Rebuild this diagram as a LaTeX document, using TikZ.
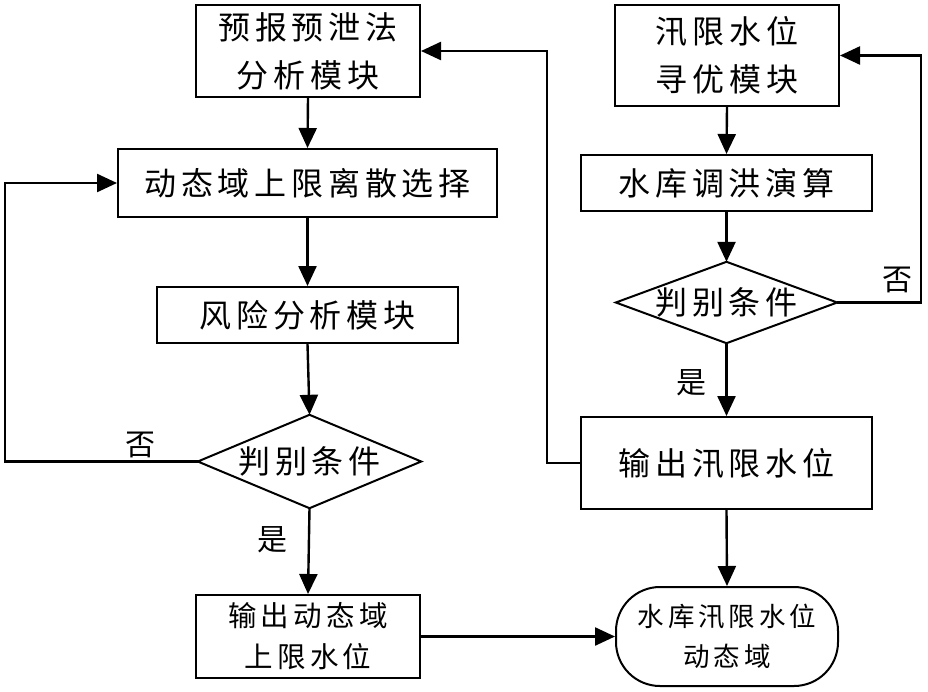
\documentclass[tikz,border=0pt]{standalone}
\usepackage{fontspec}
\newfontfamily\cjk[LetterSpace=15]{Noto Sans CJK SC}
\newfontfamily\cjkl{Noto Sans CJK SC}
\usetikzlibrary{arrows.meta}
\begin{document}
\begin{tikzpicture}[x=1pt,y=-1pt,
  box/.style={draw,line width=2pt,inner sep=0pt,align=center,font=\cjk\fontsize{32}{48}\selectfont},
  sbox/.style={box,font=\cjk\fontsize{28.5}{41}\selectfont},
  dia/.style={draw=none,inner sep=0pt,align=center,font=\cjk\fontsize{32}{48}\selectfont},
  lab/.style={inner sep=0pt,font=\cjkl\fontsize{30}{36}\selectfont},
  arr/.style={line width=2.4pt,-{Triangle[length=20pt,width=18pt]}},
  dline/.style={line width=2pt,line join=miter}]
\useasboundingbox (0,0) rectangle (928,691);
% left column
\node[box,minimum width=224pt,minimum height=92pt] (b1) at (308,51) {预报预泄法\\分析模块};
\node[box,minimum width=379pt,minimum height=68pt] (b2) at (307.5,183) {动态域上限离散选择};
\node[box,minimum width=301pt,minimum height=56pt] (b3) at (307.5,315) {风险分析模块};
\node[dia,minimum width=223pt,minimum height=93pt] (d1) at (309.5,461.5) {判别条件};
\draw[dline] (d1.north) -- (d1.east) -- (d1.south) -- (d1.west) -- cycle;
\node[sbox,minimum width=224pt,minimum height=83pt] (b4) at (308,636.5) {输出动态域\\上限水位};
\node[sbox,rounded corners=44pt,minimum width=222pt,minimum height=99pt,font=\cjk\fontsize{26.5}{40}\selectfont] (t) at (727,636.5) {水库汛限水位\\动态域};
% right column
\node[box,minimum width=224pt,minimum height=101pt] (b5) at (727,55.5) {汛限水位\\寻优模块};
\node[box,minimum width=291pt,minimum height=56pt] (b6) at (726.5,183) {水库调洪演算};
\node[dia,minimum width=221pt,minimum height=81pt] (d2) at (726.5,302.5) {判别条件};
\draw[dline] (d2.north) -- (d2.east) -- (d2.south) -- (d2.west) -- cycle;
\node[box,minimum width=291pt,minimum height=92pt] (b7) at (726.5,463) {输出汛限水位};
% helper coordinates
\coordinate (cl) at (5,461.5);
\coordinate (cr) at (921,302.5);
\coordinate (cm) at (547,463);
% connectors
\draw[arr] (b1.south) -- (b2.north);
\draw[arr] (b2.south) -- (b3.north);
\draw[arr] (b3.south) -- (d1.north);
\draw[arr] (d1.south) -- (b4.north);
\draw[arr] (d1.west) -- (cl) |- (b2.west);
\draw[arr] (b4.east) -- (t.west);
\draw[arr] (b5.south) -- (b6.north);
\draw[arr] (b6.south) -- (d2.north);
\draw[arr] (d2.south) -- (b7.north);
\draw[arr] (d2.east) -- (cr) |- (b5.east);
\draw[arr] (b7.west) -- (cm) |- (b1.east);
\draw[arr] (b7.south) -- (t.north);
% labels
\node[lab] (n1) at (140,445) {否};
\node[lab] (y1) at (272,540) {是};
\node[lab] (n2) at (897,280) {否};
\node[lab] (y2) at (691,383) {是};
\end{tikzpicture}
\end{document}
